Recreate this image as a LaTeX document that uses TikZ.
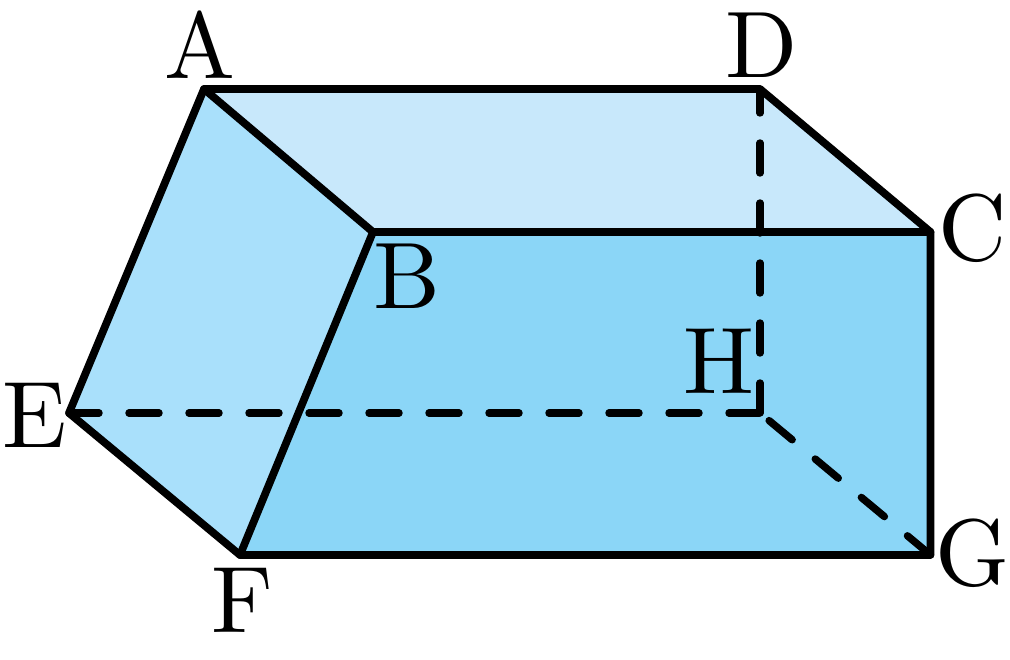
\documentclass[tikz,border=0pt]{standalone}
\definecolor{topc}{HTML}{C8E8FB}
\definecolor{leftc}{HTML}{A9E0FB}
\definecolor{frontc}{HTML}{8BD6F7}
\tikzset{
  edge/.style={line width=7.7pt,line cap=round,line join=round},
  hidden/.style={line width=7.4pt,line cap=round,dash pattern=on 30pt off 30pt},
  lab/.style={inner sep=0pt,scale=9.45}
}
\begin{document}
\begin{tikzpicture}[x=1pt,y=-1pt]
\useasboundingbox (0,0) rectangle (1010,660);
\coordinate (A) at (204,89);
\coordinate (D) at (760,89);
\coordinate (B) at (373,232);
\coordinate (C) at (930.5,232);
\coordinate (E) at (69,413);
\coordinate (H) at (760,413);
\coordinate (F) at (240,555);
\coordinate (G) at (930.5,555);
\fill[topc] (A) -- (D) -- (C) -- (B) -- cycle;
\fill[leftc] (A) -- (B) -- (F) -- (E) -- cycle;
\fill[frontc] (B) -- (C) -- (G) -- (F) -- cycle;
\draw[hidden] (H) -- (D);
\draw[hidden] (E) -- (H);
\draw[hidden] (G) -- (H);
\draw[edge] (A) -- (D) -- (C) -- (G) -- (F) -- (E) -- cycle;
\draw[edge] (A) -- (B) -- (C);
\draw[edge] (B) -- (F);
\node[lab] (la) at (200,45) {A};
\node[lab] (ld) at (761.5,45) {D};
\node[lab] (lc) at (972.5,228) {C};
\node[lab] (lb) at (407,276) {B};
\node[lab] (lh) at (718.5,361) {H};
\node[lab] (le) at (34.5,415) {E};
\node[lab] (lf) at (242,600) {F};
\node[lab] (lg) at (973,553) {G};
\end{tikzpicture}
\end{document}
